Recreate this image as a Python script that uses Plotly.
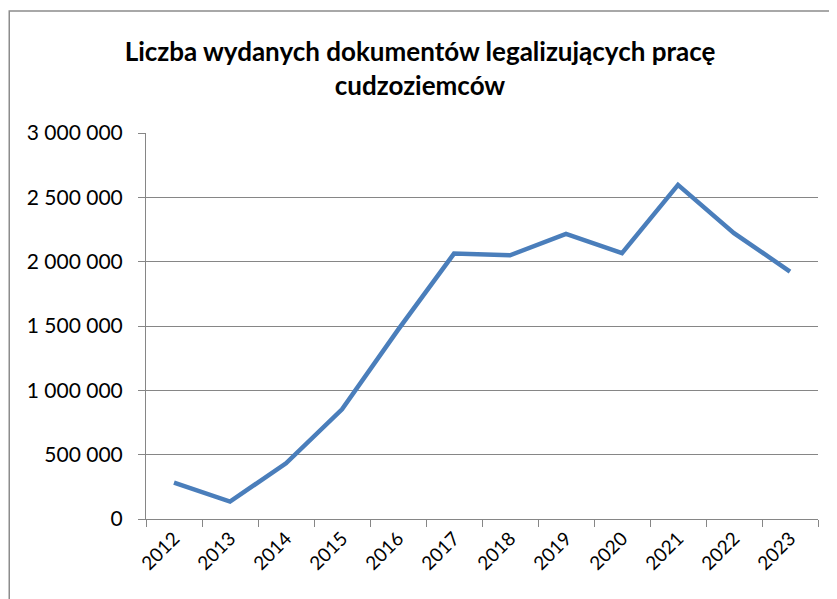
import plotly.graph_objects as go

years = ["2012", "2013", "2014", "2015", "2016", "2017", "2018", "2019", "2020", "2021", "2022", "2023"]
documents = [282000, 135000, 433000, 853000, 1470000, 2063000, 2050000, 2216000, 2066000, 2597000, 2222000, 1923000]

title_text = "<b>Liczba wydanych dokumentów legalizujących pracę<br>cudzoziemców</b>"

fig = go.Figure()
fig.add_trace(go.Scatter(
    x=years, y=documents, mode="lines",
    line=dict(color="#4A7EBB", width=4.5),
    showlegend=False,
))

grey = "#868686"
fig.update_layout(
    width=829, height=591,
    margin=dict(l=138, r=19, t=125, b=80),
    paper_bgcolor="white", plot_bgcolor="white",
    separators=". ",
    font=dict(family="Lato, Open Sans, sans-serif", color="black", size=16),
    title=dict(text=title_text, x=0.497, xref="container", xanchor="center",
               y=0.910, yref="container", yanchor="middle",
               font=dict(family="Lato, Open Sans, sans-serif", size=26, color="black")),
    xaxis=dict(
        type="category", showgrid=False, showline=True, linecolor=grey, linewidth=1,
        ticks="outside", tickson="boundaries", ticklen=7, tickcolor=grey,
        tickangle=-45, tickfont=dict(size=19), range=[-0.5, 11.5],
    ),
    yaxis=dict(
        range=[0, 3000000], dtick=500000, tickformat=",d",
        showgrid=True, gridcolor=grey, gridwidth=1,
        showline=True, linecolor=grey, linewidth=1,
        ticks="outside", ticklen=7, tickcolor=grey,
        tickfont=dict(size=21), zeroline=False, ticklabelstandoff=11,
    ),
    shapes=[dict(type="rect", xref="paper", yref="paper",
                 x0=-0.2035, x1=1.2, y0=-0.4, y1=1.316,
                 line=dict(color="#8c8c8c", width=1.5), fillcolor="rgba(0,0,0,0)",
                 layer="below")],
)

fig.write_html("out.html")
